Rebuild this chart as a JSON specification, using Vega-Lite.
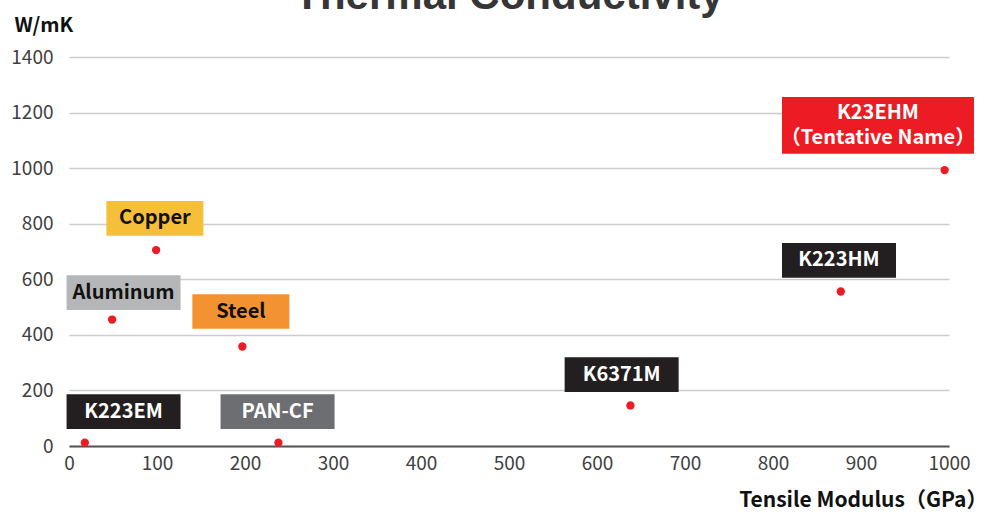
{
  "$schema": "https://vega.github.io/schema/vega-lite/v6.json",
  "autosize": {"type": "none"},
  "width": 880,
  "height": 389,
  "padding": {"left": 69, "top": 57, "right": 43, "bottom": 68},
  "background": "white",
  "title": {
    "text": "Thermal Conductivity",
    "font": "Liberation Sans",
    "fontSize": 42,
    "fontWeight": "bold",
    "color": "#363636",
    "anchor": "middle",
    "baseline": "alphabetic",
    "offset": 0,
    "dy": 36
  },
  "config": {
    "view": {"stroke": null},
    "font": "Noto Sans CJK JP"
  },
  "data": {
    "values": [
      {"name": "K223EM", "label": "K223EM", "modulus": 18, "conductivity": 12, "lx": 62, "ly": 124},
      {"name": "PAN-CF", "label": "PAN-CF", "modulus": 238, "conductivity": 12, "lx": 237, "ly": 124},
      {"name": "Aluminum", "label": "Aluminum", "modulus": 49, "conductivity": 455, "lx": 62, "ly": 552},
      {"name": "Copper", "label": "Copper", "modulus": 99, "conductivity": 705, "lx": 97.6, "ly": 819},
      {"name": "Steel", "label": "Steel", "modulus": 197, "conductivity": 358, "lx": 195.3, "ly": 484},
      {"name": "K6371M", "label": "K6371M", "modulus": 638, "conductivity": 146, "lx": 628, "ly": 257},
      {"name": "K223HM", "label": "K223HM", "modulus": 877, "conductivity": 556, "lx": 875, "ly": 668},
      {"name": "K23EHM", "label": "K23EHM\n（Tentative Name）", "modulus": 995, "conductivity": 993, "lx": 919.3, "ly": 1154}
    ]
  },
  "layer": [
    {
      "mark": {"type": "point", "filled": true, "size": 4, "opacity": 1, "strokeWidth": 0},
      "encoding": {
        "x": {
          "field": "lx", "type": "quantitative",
          "scale": {"domain": [0, 1000], "nice": false, "zero": true},
          "axis": {
            "values": [0, 100, 200, 300, 400, 500, 600, 700, 800, 900, 1000],
            "format": "d",
            "grid": false,
            "ticks": false,
            "domain": true,
            "domainColor": "#555555",
            "domainWidth": 2,
            "labelFont": "Noto Sans CJK JP",
            "labelFontSize": 19,
            "labelColor": "#404040",
            "labelPadding": 8,
            "labelFlush": false,
            "title": "Tensile Modulus（GPa）",
            "titleFont": "Noto Sans CJK JP",
            "titleFontSize": 21,
            "titleFontWeight": "bold",
            "titleColor": "#111111",
            "titleAnchor": "end",
            "titleAlign": "right",
            "titleX": 918,
            "titleY": 54,
            "titleBaseline": "middle"
          }
        },
        "y": {
          "field": "ly", "type": "quantitative",
          "scale": {"domain": [0, 1400], "nice": false},
          "axis": {
            "values": [0, 200, 400, 600, 800, 1000, 1200, 1400],
            "format": "d",
            "grid": true,
            "gridColor": "#cccccc",
            "gridWidth": 1.5,
            "ticks": false,
            "domain": false,
            "labelFont": "Noto Sans CJK JP",
            "labelFontSize": 19,
            "labelColor": "#404040",
            "labelPadding": 16,
            "title": "W/mK",
            "titleFont": "Noto Sans CJK JP",
            "titleFontSize": 20,
            "titleFontWeight": "bold",
            "titleColor": "#111111",
            "titleAngle": 0,
            "titleAlign": "left",
            "titleBaseline": "middle",
            "titleX": -55,
            "titleY": -32
          }
        },
        "shape": {
          "field": "name", "type": "nominal", "legend": null,
          "scale": {
            "domain": ["K223EM", "PAN-CF", "Aluminum", "Copper", "Steel", "K6371M", "K223HM", "K23EHM"],
            "range": [
              "M-57,-17.35H57V17.35H-57Z",
              "M-57,-17.35H57V17.35H-57Z",
              "M-57,-17.35H57V17.35H-57Z",
              "M-48.5,-17.35H48.5V17.35H-48.5Z",
              "M-48.5,-17.35H48.5V17.35H-48.5Z",
              "M-57,-17.35H57V17.35H-57Z",
              "M-57,-17.35H57V17.35H-57Z",
              "M-96,-28.35H96V28.35H-96Z"
            ]
          }
        },
        "color": {
          "field": "name", "type": "nominal", "legend": null,
          "scale": {
            "domain": ["K223EM", "PAN-CF", "Aluminum", "Copper", "Steel", "K6371M", "K223HM", "K23EHM"],
            "range": ["#231F20", "#6D6E71", "#B5B6B8", "#F5BF3A", "#F39231", "#231F20", "#231F20", "#ED1C24"]
          }
        }
      }
    },
    {
      "transform": [{"filter": "datum.name !== 'K23EHM'"}],
      "mark": {"type": "text", "font": "Noto Sans CJK JP", "fontSize": 20, "fontWeight": "bold", "align": "center", "baseline": "middle"},
      "encoding": {
        "x": {"field": "lx", "type": "quantitative"},
        "y": {"field": "ly", "type": "quantitative"},
        "text": {"field": "label"},
        "color": {
          "condition": {"test": "indexof(['Copper','Aluminum','Steel'], datum.name) >= 0", "value": "#111111"},
          "value": "#ffffff"
        }
      }
    },
    {
      "transform": [{"filter": "datum.name === 'K23EHM'"}],
      "mark": {"type": "text", "font": "Noto Sans CJK JP", "fontSize": 20, "fontWeight": "bold", "align": "center", "baseline": "middle", "lineBreak": "\n", "lineHeight": 25, "dy": -12, "color": "#ffffff"},
      "encoding": {
        "x": {"field": "lx", "type": "quantitative"},
        "y": {"field": "ly", "type": "quantitative"},
        "text": {"field": "label"}
      }
    },
    {
      "mark": {"type": "point", "shape": "circle", "filled": true, "size": 70, "color": "#ED1C24", "opacity": 1},
      "encoding": {
        "x": {"field": "modulus", "type": "quantitative"},
        "y": {"field": "conductivity", "type": "quantitative"}
      }
    }
  ],
  "resolve": {"scale": {"color": "independent"}}
}
